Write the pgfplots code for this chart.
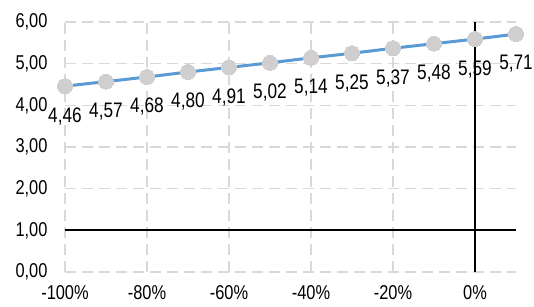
\documentclass[border=0pt]{standalone}
\usepackage{fontspec}
\setmainfont[FakeStretch=0.82]{Liberation Sans}
\usepackage{pgfplots}
\pgfplotsset{compat=1.18}
\definecolor{lineblue}{HTML}{5B9BD5}
\definecolor{markgray}{HTML}{D0CECE}
\definecolor{gridgray}{HTML}{D9D9D9}
\begin{document}
\begin{tikzpicture}
\begin{axis}[
  scale only axis,
  width=451pt, height=250pt,
  xmin=-100, xmax=10, ymin=0, ymax=6,
  axis line style={draw=none},
  xtick={-100,-80,-60,-40,-20,0},
  xticklabels={-100\%,-80\%,-60\%,-40\%,-20\%,0\%},
  ytick={0,1,2,3,4,5,6},
  grid=major,
  major grid style={gridgray, line width=1.5pt, dash pattern=on 11pt off 6pt},
  tick style={draw=none},
  /pgf/number format/.cd, fixed, fixed zerofill, precision=2, use comma, assume math mode=true,
  /pgfplots/.cd,
  ticklabel style={font=\fontsize{20}{22}\selectfont, black},
  yticklabel style={xshift=-14pt},
  xticklabel style={yshift=-10pt},
  clip=false,
]
\draw[black, line width=1.8pt] (axis cs:-100,1) -- (axis cs:10,1);
\draw[black, line width=1.8pt] (axis cs:0,0) -- (axis cs:0,6);
\addplot[lineblue, line width=3pt, mark=*, mark size=7.5pt,
  mark options={fill=markgray, draw=markgray, line width=0pt},
  nodes near coords,
  every node near coord/.append style={anchor=center, yshift=-30pt, font=\fontsize{21}{24}\selectfont, black}]
coordinates {
(-100,4.46) (-90,4.57) (-80,4.68) (-70,4.80) (-60,4.91) (-50,5.02)
(-40,5.14) (-30,5.25) (-20,5.37) (-10,5.48) (0,5.59) (10,5.71)
};
\end{axis}
\pgfresetboundingbox
\path (-65pt,-35pt) rectangle (469pt,272pt);
\end{tikzpicture}
\end{document}
